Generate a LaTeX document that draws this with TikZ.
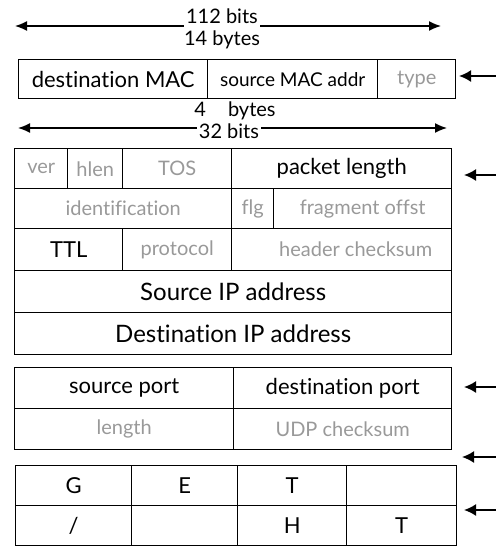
\documentclass[tikz,border=0pt]{standalone}
\usepackage{fontspec}
\setmainfont{Lato}[Ligatures={NoCommon}]
\usetikzlibrary{arrows.meta,calc}
\definecolor{lightgray}{HTML}{999999}
\tikzset{
  cell/.style={draw, line width=1.4pt, inner sep=0pt, anchor=north west, font=\fontsize{22}{23}\selectfont},
  smallcell/.style={cell, font=\fontsize{19}{20}\selectfont},
  bigcell/.style={cell, font=\fontsize{24}{25}\selectfont},
  gcell/.style={cell, text=lightgray, font=\fontsize{20}{21}\selectfont},
  lbl/.style={inner sep=2pt, font=\fontsize{20}{21}\selectfont},
  dim/.style={line width=1.5pt, -{Latex[length=12pt,width=10pt]}},
  ptr/.style={line width=1.8pt, -{Latex[length=12pt,width=12pt]}}
}
\begin{document}
\begin{tikzpicture}[x=1pt,y=-1pt]
\useasboundingbox (0,0) rectangle (496,547);
% ---- Ethernet header
\node[lbl] (bits1) at (222,16) {112 bits};
\node[lbl] (bytes1) at (222,40) {14 bytes};
\coordinate (l1) at (15,26);
\coordinate (r1) at (441,26);
\draw[dim] (l1 -| bits1.west) -- (l1);
\draw[dim] (r1 -| bits1.east) -- (r1);
\node[cell, minimum width=189, minimum height=39] (dmac) at (18,59) {destination MAC};
\node[smallcell, minimum width=170, minimum height=39] (smac) at (207,59) {source MAC addr};
\node[gcell, minimum width=78, minimum height=39] (typ) at (377,59) {type};
\coordinate (p1) at (496,76);
\coordinate (p1e) at (459,76);
\draw[ptr] (p1) -- (p1e);
% ---- IP header
\node[lbl] (bytes2) at (235,111) {4\hspace{1.1em}bytes};
\node[lbl] (bits2) at (229,131) {32 bits};
\coordinate (l2) at (18,128);
\coordinate (r2) at (447,128);
\draw[dim] (l2 -| bits2.west) -- (l2);
\draw[dim] (r2 -| bits2.east) -- (r2);
\node[gcell, minimum width=53, minimum height=40] (ver) at (14,148) {ver};
\node[gcell, minimum width=55, minimum height=40] (hlen) at (67,148) {hlen};
\node[gcell, minimum width=109, minimum height=40] (tos) at (122,148) {TOS};
\node[cell, minimum width=220, minimum height=40] (plen) at (231,148) {packet length};
\node[gcell, minimum width=217, minimum height=40] (ident) at (14,188) {identification};
\node[gcell, minimum width=42, minimum height=40] (flg) at (231,188) {flg};
\node[gcell, minimum width=178, minimum height=40] (frag) at (273,188) {fragment offst};
\node[cell, minimum width=108, minimum height=42] (ttl) at (14,228) {TTL};
\node[gcell, minimum width=109, minimum height=42] (proto) at (122,228) {protocol};
\node[gcell, minimum width=220, minimum height=42] (hcs) at (231,228) {\hspace{1.4em}header checksum};
\node[bigcell, minimum width=437, minimum height=42] (srcip) at (14,270) {Source IP address};
\node[bigcell, minimum width=437, minimum height=42] (dstip) at (14,312) {Destination IP address};
\coordinate (p2) at (496,175);
\coordinate (p2e) at (464,175);
\draw[ptr] (p2) -- (p2e);
% ---- UDP header
\node[cell, minimum width=219, minimum height=41] (sport) at (14,367) {source port};
\node[cell, minimum width=218, minimum height=41] (dport) at (233,367) {destination port};
\node[gcell, minimum width=219, minimum height=41] (ulen) at (14,408) {length};
\node[gcell, minimum width=218, minimum height=41] (ucs) at (233,408) {UDP checksum};
\coordinate (p3) at (496,387);
\coordinate (p3e) at (464,387);
\draw[ptr] (p3) -- (p3e);
\coordinate (p4) at (496,457);
\coordinate (p4e) at (462,457);
\draw[ptr] (p4) -- (p4e);
% ---- Data
\node[cell, minimum width=116, minimum height=40] (d1) at (15,465) {G};
\node[cell, minimum width=106, minimum height=40] (d2) at (131,465) {E};
\node[cell, minimum width=109, minimum height=40] (d3) at (237,465) {T};
\node[cell, minimum width=110, minimum height=40] (d4) at (346,465) {};
\node[cell, minimum width=116, minimum height=40] (d5) at (15,505) {/};
\node[cell, minimum width=106, minimum height=40] (d6) at (131,505) {};
\node[cell, minimum width=109, minimum height=40] (d7) at (237,505) {H};
\node[cell, minimum width=110, minimum height=40] (d8) at (346,505) {T};
\coordinate (p5) at (496,510);
\coordinate (p5e) at (464,510);
\draw[ptr] (p5) -- (p5e);
\end{tikzpicture}
\end{document}
